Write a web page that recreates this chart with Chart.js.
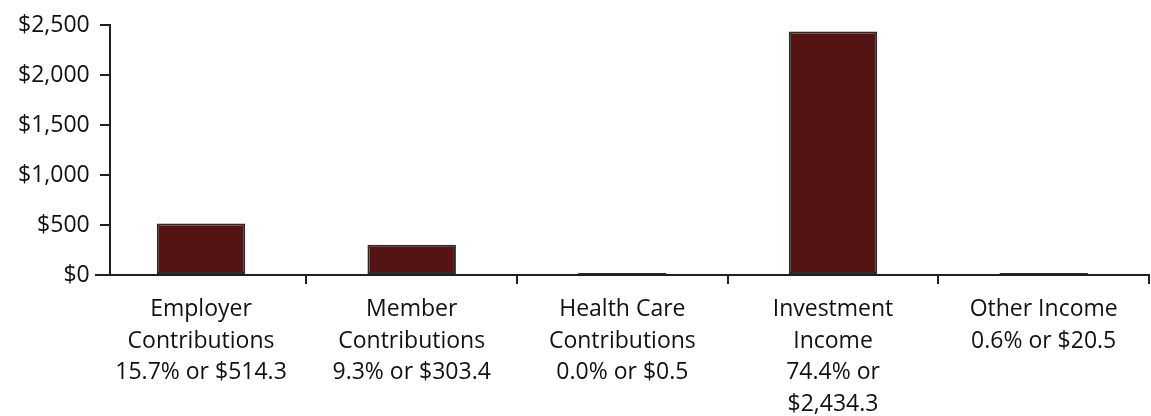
<!DOCTYPE html>
<html>
<head>
<meta charset="utf-8">
<script src="https://cdn.jsdelivr.net/npm/chart.js@4"></script>
<style>
  body { margin: 0; background: #fff; }
  #wrap { width: 1151px; height: 416px; }
</style>
</head>
<body>
<div id="wrap"><canvas id="incomeChart" width="1151" height="416"></canvas></div>
<script>
// Income sources ($ millions)
const categories = [
    ['Employer', 'Contributions', '15.7% or $514.3'],
    ['Member', 'Contributions', '9.3% or $303.4'],
    ['Health Care', 'Contributions', '0.0% or $0.5'],
    ['Investment', 'Income', '74.4% or', '$2,434.3'],
    ['Other Income', '0.6% or $20.5']
];
const amounts = [514.3, 303.4, 0.5, 2434.3, 20.5];
const yTicks = [0, 500, 1000, 1500, 2000, 2500];

const axisColor = '#231f20';
const textFont = { family: "'Open Sans', 'Noto Sans', sans-serif", size: 23, lineHeight: 1.37 };

function setTicks(axis) {
    axis.ticks = yTicks.map(v => ({ value: v }));
}

new Chart(document.getElementById('incomeChart'), {
    type: 'bar',
    data: {
        labels: categories,
        datasets: [{
            data: amounts,
            yAxisID: 'y',
            backgroundColor: '#541414',
            borderColor: '#2b2b2b',
            borderWidth: 2,
            borderSkipped: false,
            minBarLength: 2,
            categoryPercentage: 1,
            barPercentage: 0.42
        }]
    },
    options: {
        responsive: false,
        animation: false,
        layout: { padding: { left: 12, top: 25, right: 2, bottom: 0 } },
        plugins: {
            legend: { display: false },
            tooltip: { enabled: false }
        },
        scales: {
            x: {
                grid: {
                    offset: true,
                    drawOnChartArea: false,
                    drawTicks: true,
                    tickLength: 9,
                    color: axisColor,
                    tickColor: ctx => (ctx.index === 0 || ctx.index === categories.length) ? 'rgba(0,0,0,0)' : axisColor,
                    lineWidth: 2
                },
                border: { color: axisColor, width: 2 },
                ticks: {
                    color: '#111',
                    font: textFont,
                    padding: 10,
                    maxRotation: 0,
                    autoSkip: false
                },
                afterFit: scale => { scale.height = 141; }
            },
            // tick labels only, on the left
            yLabels: {
                axis: 'y',
                position: 'left',
                min: 0,
                max: 2500,
                afterBuildTicks: setTicks,
                grid: { display: false, drawTicks: false },
                border: { display: false },
                ticks: {
                    color: '#111',
                    font: textFont,
                    padding: 6,
                    callback: v => '$' + v.toLocaleString('en-US')
                }
            },
            // axis line + tick marks, a little inside the first category slot
            y: {
                axis: 'y',
                position: { x: -0.43 },
                min: 0,
                max: 2500,
                afterBuildTicks: setTicks,
                grid: {
                    drawOnChartArea: false,
                    drawTicks: true,
                    tickLength: 9,
                    color: axisColor,
                    lineWidth: 2
                },
                border: { color: axisColor, width: 2 },
                ticks: { display: false }
            }
        }
    }
});
</script>
</body>
</html>
